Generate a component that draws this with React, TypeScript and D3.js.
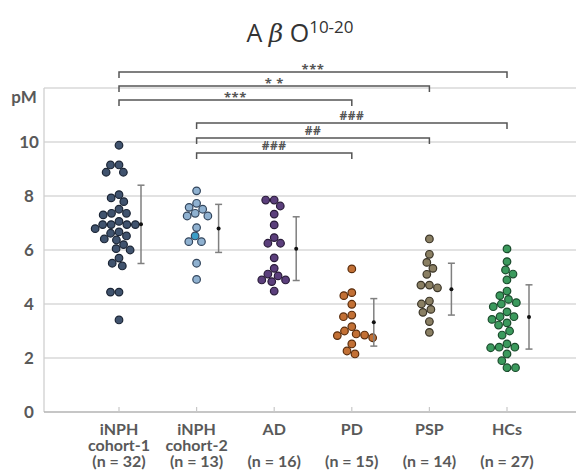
import * as d3 from "d3";
import React from "react";

// groups, in display order
const categories = ["iNPH cohort-1", "iNPH cohort-2", "AD", "PD", "PSP", "HCs"];
const nameLines = [["iNPH", "cohort-1"], ["iNPH", "cohort-2"], ["AD"], ["PD"], ["PSP"], ["HCs"]];
const nLabels = ["(n = 32)", "(n = 13)", "(n = 16)", "(n = 15)", "(n = 14)", "(n = 27)"];

// individual values, pM
const inph1 = [9.88, 9.15, 9.15, 8.88, 8.88, 8.05, 7.93, 7.79, 7.51, 7.36, 7.36, 7.3, 7.06, 6.94, 6.94, 6.94,
  6.94, 6.79, 6.67, 6.62, 6.52, 6.41, 6.37, 6.2, 6.05, 6.0, 5.7, 5.51, 5.41, 4.44, 4.44, 3.41];
const inph2 = [8.19, 7.73, 7.58, 7.51, 7.36, 7.26, 7.26, 6.83, 6.52, 6.31, 6.31, 5.51, 4.91];
const ad = [7.85, 7.85, 7.63, 7.33, 6.93, 6.46, 6.25, 6.25, 5.71, 5.32, 5.11, 5.04, 4.89, 4.89, 4.83, 4.48];
const pd = [5.3, 4.42, 4.31, 3.99, 3.59, 3.53, 3.16, 3.0, 2.89, 2.85, 2.83, 2.75, 2.52, 2.26, 2.15];
const psp = [6.41, 5.84, 5.54, 5.32, 5.1, 4.7, 4.7, 4.6, 4.11, 4.0, 3.8, 3.69, 3.35, 2.95];
const hcs = [6.04, 5.57, 5.26, 5.11, 4.89, 4.48, 4.31, 4.17, 4.05, 4.0, 3.9, 3.71, 3.53, 3.53, 3.43,
  3.3, 3.22, 3.0, 2.85, 2.52, 2.4, 2.4, 2.38, 2.15, 1.9, 1.64, 1.64];
const groupValues = [inph1, inph2, ad, pd, psp, hcs];

// mean +/- SD shown beside each group
const means = [6.95, 6.8, 6.05, 3.32, 4.55, 3.52];
const sds = [1.45, 0.89, 1.18, 0.88, 0.96, 1.19];

const yTicks = [0, 2, 4, 6, 8, 10];

// significance brackets
const comparisons = [
  { from: 0, to: 5, label: "***" },
  { from: 0, to: 4, label: "* *" },
  { from: 0, to: 3, label: "***" },
  { from: 1, to: 5, label: "###" },
  { from: 1, to: 4, label: "##" },
  { from: 1, to: 3, label: "###" },
];

const fills = ["#40536e", "#8fb1d0", "#5b3f7c", "#c27035", "#8a7f63", "#3b9a5d"];
const strokes = ["#1b2535", "#33465d", "#2a1c3a", "#5a2d0d", "#3a3427", "#1b4b2d"];
const highlight = { group: 1, value: 6.52, fill: "#3a9dc7" };

const W = 576;
const H = 472;
const grey = "#595959";
const labelFont = "Lato, 'Open Sans', sans-serif";
const openSans = "'Open Sans', sans-serif";

function swarm(values: number[], cx: number, y: (v: number) => number, D: number) {
  const placed: { x: number; y: number; v: number }[] = [];
  const sorted = [...values].sort((a, b) => b - a);
  sorted.forEach((v) => {
    const yy = y(v);
    const iv = placed
      .filter((p) => Math.abs(p.y - yy) < D)
      .map((p) => {
        const dx = Math.sqrt(D * D - (p.y - yy) ** 2);
        return [p.x - dx, p.x + dx];
      });
    const cands = [0];
    iv.forEach(([a, b]) => cands.push(a, b));
    cands.sort((a, b) => Math.abs(a) - Math.abs(b));
    const x = cands.find((c) => iv.every(([a, b]) => c <= a + 1e-6 || c >= b - 1e-6)) ?? 0;
    placed.push({ x, y: yy, v });
  });
  return placed.map((p) => ({ ...p, x: p.x + cx }));
}

export default function App() {
  const x = d3.scalePoint<string>().domain(categories).range([119, 507]);
  const y = d3.scaleLinear().domain([0, 12]).range([412, 88]);
  const left = 44;
  const errOffset = 22;
  const r = 3.8;

  const bracketY = (i: number) => (i < 3 ? 72 + i * 14 : 123 + (i - 3) * 15);

  let hlDone = false;

  return (
    <svg width={W} height={H} style={{ position: "absolute", left: 0, top: 0, background: "#fff" }} fontFamily={labelFont}>
      {/* title */}
      <text x={300} y={42} textAnchor="middle" fontSize={25} fill="#333" fontFamily={openSans}>
        <tspan>A </tspan>
        <tspan fontStyle="italic" fontFamily="'DejaVu Serif', serif">β</tspan>
        <tspan> O</tspan>
        <tspan fontSize={17} dy={-9}>10-20</tspan>
      </text>

      {/* grid */}
      {yTicks.filter((t) => t > 0).map((t) => (
        <line key={t} x1={left} x2={W} y1={y(t)} y2={y(t)} stroke="#d9d9d9" strokeWidth={1.3} />
      ))}
      <line x1={left} x2={W} y1={y(12)} y2={y(12)} stroke="#d9d9d9" strokeWidth={1.3} />
      <line x1={left} x2={left} y1={y(12)} y2={y(0)} stroke="#d0d0d0" strokeWidth={1.3} />
      <line x1={left} x2={W} y1={y(0)} y2={y(0)} stroke="#b3b3b3" strokeWidth={1.5} />
      {categories.map((c) => (
        <line key={c} x1={x(c)} x2={x(c)} y1={y(0)} y2={y(0) - 5} stroke="#c8c8c8" strokeWidth={1.2} />
      ))}

      {/* y labels */}
      {yTicks.map((t) => (
        <text key={t} x={29} y={y(t)} dy="0.36em" textAnchor="middle" fontSize={17} fontWeight="bold" fill={grey}>
          {t}
        </text>
      ))}
      <text x={24} y={103} textAnchor="middle" fontSize={17} fontWeight="bold" fill={grey}>pM</text>

      {/* x labels, one text per group */}
      {categories.map((c, i) => (
        <text key={c} x={x(c)} y={435} fontSize={16} fontWeight="bold" fill={grey} textAnchor="middle">
          {nameLines[i].map((l, j) => (
            <tspan key={j} x={x(c)} y={435 + j * 16}>{l}</tspan>
          ))}
          <tspan x={x(c)} y={467}>{nLabels[i]}</tspan>
        </text>
      ))}

      {/* dots */}
      {categories.map((c, i) => {
        const pts = swarm(groupValues[i], x(c)!, y, 2 * r + 0.9);
        return (
          <g key={c}>
            {pts.map((p, k) => {
              let f = fills[i];
              if (!hlDone && i === highlight.group && p.v === highlight.value) {
                f = highlight.fill;
                hlDone = true;
              }
              return <circle key={k} cx={p.x} cy={p.y} r={r} fill={f} stroke={strokes[i]} strokeWidth={1.2} />;
            })}
          </g>
        );
      })}

      {/* mean +/- SD */}
      {categories.map((c, i) => {
        const ex = x(c)! + errOffset;
        const top = y(means[i] + sds[i]);
        const bot = y(means[i] - sds[i]);
        return (
          <g key={c} stroke="#7f7f7f" strokeWidth={1.5}>
            <line x1={ex} x2={ex} y1={top} y2={bot} />
            <line x1={ex - 3.5} x2={ex + 3.5} y1={top} y2={top} />
            <line x1={ex - 3.5} x2={ex + 3.5} y1={bot} y2={bot} />
            <circle cx={ex} cy={y(means[i])} r={2} fill="#111" stroke="none" />
          </g>
        );
      })}

      {/* brackets */}
      {comparisons.map((cmp, i) => {
        const x1 = x(categories[cmp.from])!;
        const x2 = x(categories[cmp.to])!;
        const by = bracketY(i);
        const isHash = cmp.label.includes("#");
        return (
          <g key={i}>
            <path d={`M${x1},${by + 6}V${by}H${x2}V${by + 6}`} fill="none" stroke="#555" strokeWidth={1.5} />
            <text x={(x1 + x2) / 2} y={isHash ? by - 3 : by + 2} textAnchor="middle" fontSize={isHash ? 12 : 13}
              fontWeight="bold" fill="#555" fontFamily={openSans} letterSpacing={0.5}>
              {cmp.label}
            </text>
          </g>
        );
      })}
    </svg>
  );
}
